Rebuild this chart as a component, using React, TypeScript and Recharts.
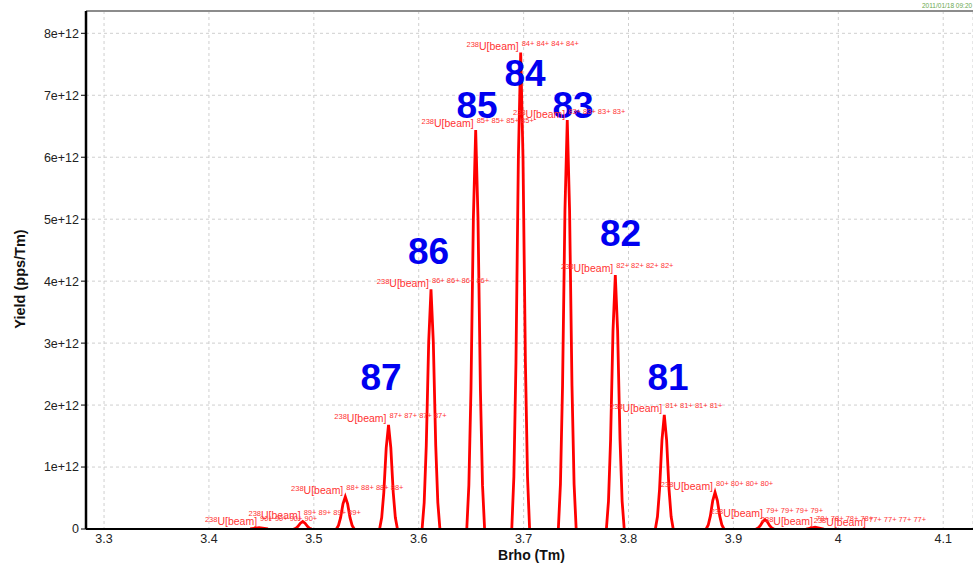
import {
  ComposedChart,
  Line,
  XAxis,
  YAxis,
  CartesianGrid,
  ReferenceDot,
  ReferenceLine,
} from "recharts";

// axis ticks
const X_TICKS = [3.3, 3.4, 3.5, 3.6, 3.7, 3.8, 3.9, 4.0, 4.1];
const Y_TICKS = [0, 1e12, 2e12, 3e12, 4e12, 5e12, 6e12, 7e12, 8e12];
const X_DOMAIN = [3.2828, 4.1284];
const Y_MAX = 8.36e12;

// Brho (Tm), yield (1e12 pps/Tm); null breaks the trace between charge states
const TRACE: Array<[number, number | null]> = [
  [3.4393, 0], [3.4478, 0.02], [3.4563, 0], [3.468, null],
  [3.4809, 0], [3.4829, 0.013], [3.4849, 0.042], [3.4872, 0.094], [3.4894, 0.12],
  [3.4916, 0.094], [3.4939, 0.042], [3.4959, 0.013], [3.4979, 0], [3.51, null],
  [3.5215, 0], [3.5235, 0.057], [3.5255, 0.182], [3.5278, 0.406], [3.53, 0.52],
  [3.5322, 0.406], [3.5345, 0.182], [3.5365, 0.057], [3.5385, 0], [3.55, null],
  [3.5627, 0], [3.5647, 0.185], [3.5667, 0.588], [3.569, 1.31], [3.5712, 1.68],
  [3.5734, 1.31], [3.5757, 0.588], [3.5777, 0.185], [3.5797, 0], [3.59, null],
  [3.6032, 0], [3.6052, 0.426], [3.6072, 1.35], [3.6095, 3.02], [3.6117, 3.87],
  [3.6139, 3.02], [3.6162, 1.35], [3.6182, 0.426], [3.6202, 0], [3.63, null],
  [3.6458, 0], [3.6478, 0.708], [3.6498, 2.25], [3.6521, 5.02], [3.6543, 6.44],
  [3.6565, 5.02], [3.6588, 2.25], [3.6608, 0.708], [3.6628, 0], [3.675, null],
  [3.6887, 0], [3.6907, 0.846], [3.6927, 2.69], [3.695, 6.0], [3.6972, 7.69],
  [3.6994, 6.0], [3.7017, 2.69], [3.7037, 0.846], [3.7057, 0], [3.72, null],
  [3.7331, 0], [3.7351, 0.726], [3.7371, 2.31], [3.7394, 5.15], [3.7416, 6.6],
  [3.7438, 5.15], [3.7461, 2.31], [3.7481, 0.726], [3.7501, 0], [3.765, null],
  [3.7789, 0], [3.7809, 0.451], [3.7829, 1.44], [3.7852, 3.2], [3.7874, 4.1],
  [3.7896, 3.2], [3.7919, 1.44], [3.7939, 0.451], [3.7959, 0], [3.81, null],
  [3.8256, 0], [3.8276, 0.202], [3.8296, 0.644], [3.8319, 1.44], [3.8341, 1.84],
  [3.8363, 1.44], [3.8386, 0.644], [3.8406, 0.202], [3.8426, 0], [3.86, null],
  [3.874, 0], [3.876, 0.065], [3.878, 0.207], [3.8803, 0.46], [3.8825, 0.59],
  [3.8847, 0.46], [3.887, 0.207], [3.889, 0.065], [3.891, 0], [3.905, null],
  [3.9216, 0], [3.9236, 0.017], [3.9256, 0.053], [3.9279, 0.117], [3.9301, 0.15],
  [3.9323, 0.117], [3.9346, 0.053], [3.9366, 0.017], [3.9386, 0], [3.955, null],
  [3.9693, 0], [3.9778, 0.03], [3.9863, 0],
];

// small red tags, one per charge state (position of the peak top)
const CHARGES = [90, 89, 88, 87, 86, 85, 84, 83, 82, 81, 80, 79, 78, 77];
const PEAK_X = [3.4478, 3.4894, 3.53, 3.5712, 3.6117, 3.6543, 3.6972, 3.7416, 3.7874, 3.8341, 3.8825, 3.9301, 3.9778, 4.0283];
const PEAK_Y = [0.02, 0.12, 0.52, 1.68, 3.87, 6.44, 7.69, 6.6, 4.1, 1.84, 0.59, 0.15, 0.03, 0.01];

// big blue charge numbers
const BIG_TEXT = ["87", "86", "85", "84", "83", "82", "81"];
const BIG_X = [3.5641, 3.6093, 3.6556, 3.7013, 3.7471, 3.7924, 3.8376];
const BIG_Y = [2.45, 4.49, 6.84, 7.36, 6.84, 4.77, 2.45];

const rows = TRACE.map(([x, y]) => ({ x, y: y === null ? null : y * 1e12 }));

const fmtY = (v: number) => (v === 0 ? "0" : `${Math.round(v / 1e12)}e+12`);

function PeakTag(props: any) {
  const { cx, cy, charge } = props;
  const c = `${charge}+`;
  return (
    <g fill="#ff3333">
      <text x={cx - 2} y={cy - 2.5} textAnchor="end" fontSize={10.5}>
        <tspan fontSize={7.5} dy={-3}>238</tspan>
        <tspan dy={3}>U[beam]</tspan>
      </text>
      <text x={cx + 1} y={cy - 6.5} fontSize={7.5}>{`${c} ${c} ${c} ${c}`}</text>
    </g>
  );
}

function BigNum(props: any) {
  const { cx, cy, text } = props;
  return (
    <text x={cx} y={cy + 13} textAnchor="middle" fontSize={37} fontWeight="bold" fill="#0000f0">
      {text}
    </text>
  );
}

export default function App() {
  return (
    <div
      style={{
        position: "absolute",
        left: 0,
        top: 0,
        width: 973,
        height: 566,
        background: "#fff",
        fontFamily: "'Liberation Sans', Arial, sans-serif",
      }}
    >
      <span
        style={{
          position: "absolute",
          left: 922,
          top: 2,
          fontSize: 6.5,
          lineHeight: "7px",
          whiteSpace: "nowrap",
          color: "#6aa84f",
        }}
      >
        2011/01/18 09:20
      </span>
      <ComposedChart
        width={973}
        height={566}
        data={rows}
        margin={{ top: 11, right: 0, bottom: 0, left: 0 }}
      >
        <CartesianGrid strokeDasharray="3 3" stroke="#cfcfcf" />
        <XAxis
          dataKey="x"
          type="number"
          domain={X_DOMAIN}
          allowDataOverflow
          ticks={X_TICKS}
          tickFormatter={(v: number) => String(v)}
          height={37}
          tickLine={false}
          tickSize={0}
          tickMargin={5}
          axisLine={{ stroke: "#000", strokeWidth: 2 }}
          tick={{ fontSize: 12.5, fill: "#222" }}
          label={{
            content: (p: any) => (
              <text
                x={p.viewBox.x + p.viewBox.width / 2 + 2}
                y={p.viewBox.y + 31}
                textAnchor="middle"
                fontSize={14}
                fontWeight="bold"
                fill="#111"
              >
                Brho (Tm)
              </text>
            ),
          }}
        />
        <YAxis
          type="number"
          domain={[0, Y_MAX]}
          allowDataOverflow
          ticks={Y_TICKS}
          tickFormatter={fmtY}
          width={86}
          tickSize={5}
          tickMargin={2}
          tickLine={{ stroke: "#000" }}
          axisLine={{ stroke: "#000", strokeWidth: 2.5 }}
          tick={{ fontSize: 12.5, fill: "#222" }}
          label={{
            content: (p: any) => {
              const x = p.viewBox.x + 25;
              const y = p.viewBox.y + p.viewBox.height / 2 + 9;
              return (
                <text
                  x={x}
                  y={y}
                  transform={`rotate(-90 ${x} ${y})`}
                  textAnchor="middle"
                  fontSize={14.5}
                  fontWeight="bold"
                  fill="#111"
                >
                  Yield (pps/Tm)
                </text>
              );
            },
          }}
        />
        <ReferenceLine y={Y_MAX} stroke="#8c8c8c" strokeWidth={2} />
        {BIG_TEXT.map((t, i) => (
          <ReferenceDot
            key={"b" + t}
            x={BIG_X[i]}
            y={BIG_Y[i] * 1e12}
            r={0}
            shape={(p: any) => <BigNum {...p} text={t} />}
          />
        ))}
        <Line
          dataKey="y"
          type="linear"
          stroke="#ff0000"
          strokeWidth={2.8}
          dot={false}
          connectNulls={false}
          isAnimationActive={false}
        />
        {CHARGES.map((c, i) => (
          <ReferenceDot
            key={"p" + c}
            x={PEAK_X[i]}
            y={PEAK_Y[i] * 1e12}
            r={0}
            shape={(p: any) => <PeakTag {...p} charge={c} />}
          />
        ))}
      </ComposedChart>
    </div>
  );
}
